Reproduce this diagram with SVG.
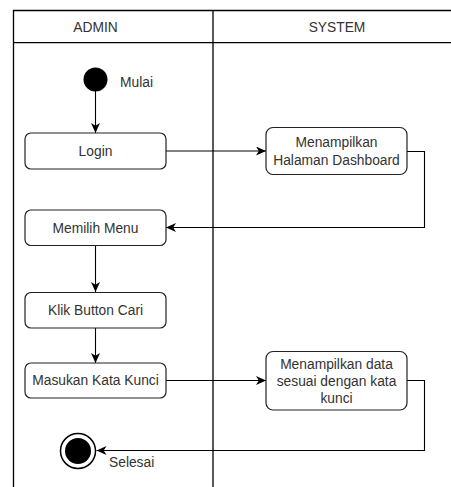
<svg xmlns="http://www.w3.org/2000/svg" width="451" height="487" viewBox="0 0 451 487">
  <style>
    .lane { fill: none; stroke: #000; stroke-width: 1.3; }
    .act { fill: #fff; stroke: #222; stroke-width: 1.2; }
    .lbl { font-family: "Liberation Sans", Arial, sans-serif; font-size: 13.8px; fill: #333; text-anchor: middle; }
    .side { font-family: "Liberation Sans", Arial, sans-serif; font-size: 13.8px; fill: #333; }
    .flow { fill: none; stroke: #000; stroke-width: 1.1; marker-end: url(#arrow); }
  </style>
  <defs>
    <marker id="arrow" markerUnits="userSpaceOnUse" markerWidth="11" markerHeight="10" refX="10" refY="4.5" orient="auto">
      <path d="M0,0 L10,4.5 L0,9 L2.8,4.5 Z" fill="#000"/>
    </marker>
  </defs>
  <rect width="451" height="487" fill="#fff"/>

  <!-- swimlanes -->
  <g id="lanes">
    <path class="lane" d="M13.5,487 V10.5 H451 M13.5,42.7 H451 M213,10.5 V487"/>
    <text class="lbl" x="95.5" y="31.5">ADMIN</text>
    <text class="lbl" x="337" y="31.5">SYSTEM</text>
  </g>

  <!-- connectors -->
  <g id="connectors">
    <path class="flow" d="M95.5,91 V133"/>
    <path class="flow" d="M166,151 H266"/>
    <path class="flow" d="M407,151.5 H424.5 V227.5 H166"/>
    <path class="flow" d="M95.5,246 V292"/>
    <path class="flow" d="M95.5,328 V363"/>
    <path class="flow" d="M166,380.5 H266"/>
    <path class="flow" d="M407,380.5 H424.5 V450.5 H96.5"/>
  </g>

  <g id="start">
    <circle cx="95.5" cy="79.5" r="12" fill="#000"/>
    <text class="side" x="120" y="86.5">Mulai</text>
  </g>

  <g id="login">
    <rect class="act" x="25" y="133" width="141" height="36" rx="6"/>
    <text class="lbl" x="95.5" y="156">Login</text>
  </g>

  <g id="dashboard">
    <rect class="act" x="266" y="127.5" width="141" height="47" rx="7"/>
    <text class="lbl" x="336.5" y="146.5">Menampilkan</text>
    <text class="lbl" x="336.5" y="165">Halaman Dashboard</text>
  </g>

  <g id="menu">
    <rect class="act" x="25" y="210" width="141" height="35.5" rx="6"/>
    <text class="lbl" x="95.5" y="232.5">Memilih Menu</text>
  </g>

  <g id="cari">
    <rect class="act" x="25" y="292.5" width="141" height="35.5" rx="6"/>
    <text class="lbl" x="95.5" y="314.5">Klik Button Cari</text>
  </g>

  <g id="kata-kunci">
    <rect class="act" x="25" y="363" width="141" height="35" rx="6"/>
    <text class="lbl" x="95.5" y="385">Masukan Kata Kunci</text>
  </g>

  <g id="hasil">
    <rect class="act" x="266" y="351.5" width="141" height="58.5" rx="7"/>
    <text class="lbl" x="336.5" y="368.5">Menampilkan data</text>
    <text class="lbl" x="336.5" y="385.5">sesuai dengan kata</text>
    <text class="lbl" x="336.5" y="402.5">kunci</text>
  </g>

  <g id="end">
    <circle cx="78" cy="451" r="17.5" fill="#fff" stroke="#000" stroke-width="1.5"/>
    <circle cx="78" cy="451" r="13" fill="#000"/>
    <text class="side" x="109" y="466.5">Selesai</text>
  </g>
</svg>
